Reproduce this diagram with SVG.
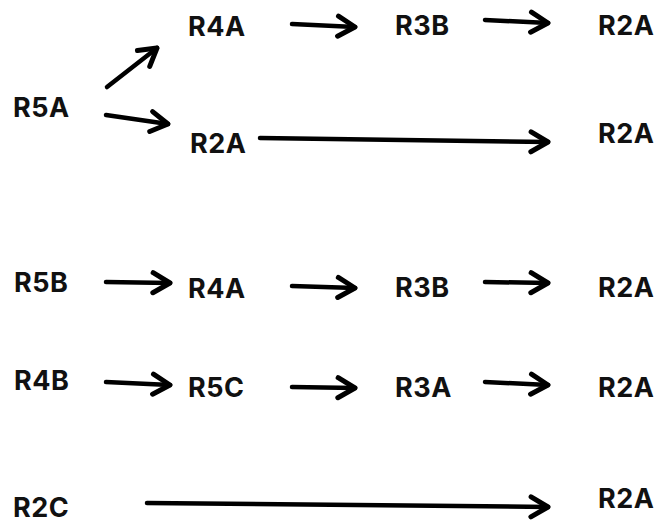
<svg xmlns="http://www.w3.org/2000/svg" width="658" height="523" viewBox="0 0 658 523">
<defs>
<style>
.t{font-family:Inter,"Noto Sans","Liberation Sans",sans-serif;font-weight:700;font-size:27px;letter-spacing:0.5px;fill:#111;}
.c{stroke:#000;stroke-width:4.5;fill:none;stroke-linecap:round;marker-end:url(#ah);}
</style>
<marker id="ah" markerUnits="userSpaceOnUse" viewBox="-24 -14 28 28" refX="0" refY="0" markerWidth="28" markerHeight="28" orient="auto">
<path d="M-17,-10 L0,0 L-17,10" fill="none" stroke="#000" stroke-width="5" stroke-linecap="round" stroke-linejoin="round"/>
</marker>
</defs>
<rect width="658" height="523" fill="#fff"/>
<g id="connectors">
<path class="c" d="M107,87 L157,48"/>
<path class="c" d="M106,115 L168,124"/>
<path class="c" d="M260,138 L548,142"/>
<path class="c" d="M292,24 L355,27"/>
<path class="c" d="M485,20 L548,23"/>
<path class="c" d="M106,282 L170,283"/>
<path class="c" d="M292,286 L355,288"/>
<path class="c" d="M485,282 L548,283"/>
<path class="c" d="M106,382 L170,385"/>
<path class="c" d="M292,387 L355,388"/>
<path class="c" d="M485,382 L548,385"/>
<path class="c" d="M147,503 L548,507"/>
</g>
<g id="n-r5a"><text class="t" x="13" y="117">R5A</text></g>
<g id="n-r4a-1"><text class="t" x="188" y="36">R4A</text></g>
<g id="n-r3b-1"><text class="t" x="395" y="35">R3B</text></g>
<g id="n-r2a-1"><text class="t" x="598" y="35">R2A</text></g>
<g id="n-r2a-2"><text class="t" x="190" y="153">R2A</text></g>
<g id="n-r2a-3"><text class="t" x="598" y="143">R2A</text></g>
<g id="n-r5b"><text class="t" x="14" y="292">R5B</text></g>
<g id="n-r4a-2"><text class="t" x="188" y="298">R4A</text></g>
<g id="n-r3b-2"><text class="t" x="395" y="297">R3B</text></g>
<g id="n-r2a-4"><text class="t" x="598" y="297">R2A</text></g>
<g id="n-r4b"><text class="t" x="14" y="390">R4B</text></g>
<g id="n-r5c"><text class="t" x="188" y="397">R5C</text></g>
<g id="n-r3a"><text class="t" x="395" y="397">R3A</text></g>
<g id="n-r2a-5"><text class="t" x="598" y="397">R2A</text></g>
<g id="n-r2c"><text class="t" x="13" y="517">R2C</text></g>
<g id="n-r2a-6"><text class="t" x="598" y="508">R2A</text></g>
</svg>
